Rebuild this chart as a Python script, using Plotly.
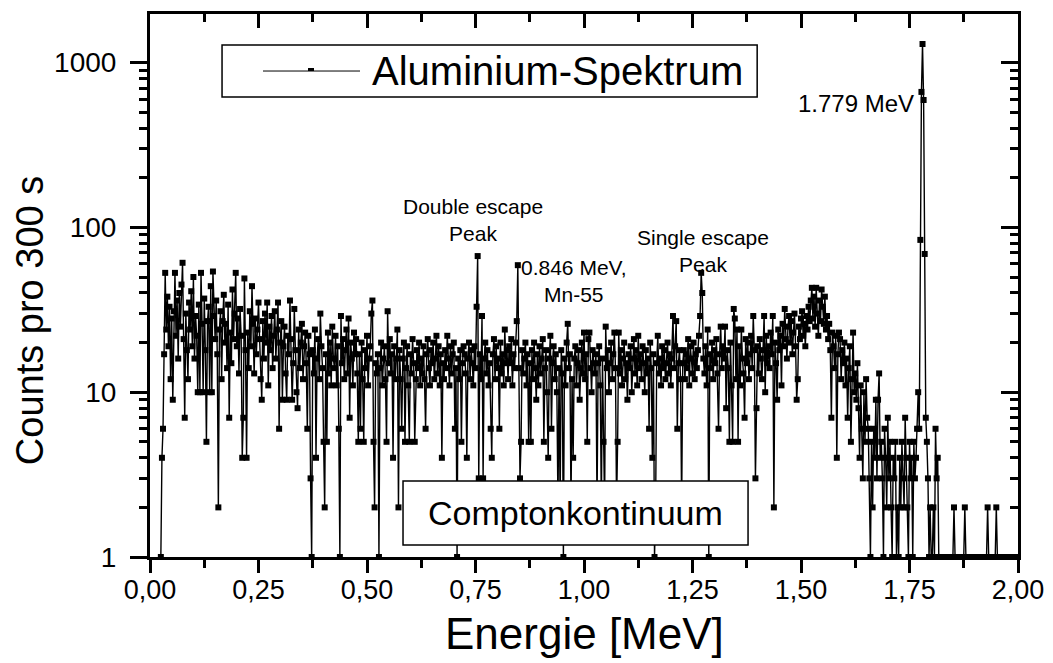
import numpy as np
import plotly.graph_objects as go

# ---------------- data ----------------
E_START = 0.025   # MeV, energy of first channel
E_STEP = 0.0025   # MeV per channel

counts_a = [  # 0.025 - 0.2725 MeV
    1, 4, 6, 17, 53, 24, 38, 19, 33, 12, 28, 9, 31, 53, 22, 36, 16, 40, 25, 45,
    61, 21, 7, 30, 18, 12, 35, 24, 41, 19, 50, 16, 29, 22, 10, 34, 10, 53, 26, 10,
    37, 18, 5, 27, 33, 10, 44, 10, 54, 29, 21, 36, 17, 2, 24, 31, 12, 27, 39, 20,
    26, 14, 34, 7, 23, 15, 42, 21, 30, 53, 19, 28, 13, 32, 22, 4, 7, 49, 18, 4,
    23, 14, 31, 19, 44, 26, 13, 28, 17, 24, 35, 21, 12, 9, 27, 16, 30, 20, 35, 11,
]
counts_b = [  # 0.275 - 0.5225 MeV
    25, 18, 29, 14, 22, 31, 16, 24, 35, 6, 20, 27, 9, 19, 25, 13, 9, 22, 17, 36,
    21, 9, 15, 32, 18, 10, 8, 24, 14, 20, 26, 12, 19, 23, 15, 6, 22, 17, 3, 1,
    18, 13, 24, 4, 16, 21, 12, 30, 19, 14, 5, 2, 17, 5, 23, 13, 20, 11, 25, 16,
    14, 22, 11, 19, 6, 1, 29, 15, 21, 12, 18, 24, 13, 28, 7, 20, 16, 11, 23, 17,
    21, 13, 5, 17, 6, 20, 12, 5, 18, 14, 22, 11, 16, 19, 30, 36, 5, 2, 15, 13,
]
counts_c = [  # 0.525 - 0.7725 MeV
    17, 1, 14, 20, 11, 16, 19, 12, 5, 31, 15, 21, 13, 17, 4, 19, 12, 16, 24, 2,
    18, 12, 6, 16, 20, 5, 14, 19, 11, 5, 17, 13, 21, 15, 5, 12, 18, 14, 20, 11,
    16, 13, 19, 12, 6, 17, 21, 14, 11, 18, 15, 20, 12, 16, 22, 13, 19, 11, 17, 4,
    15, 12, 18, 14, 22, 16, 11, 19, 13, 17, 20, 6, 14, 1, 16, 12, 18, 5, 15, 19,
    17, 13, 4, 16, 20, 12, 18, 15, 11, 19, 14, 33, 67, 3, 17, 12, 29, 3, 16, 20,
]
counts_d = [  # 0.775 - 1.0225 MeV
    13, 18, 11, 15, 6, 4, 17, 21, 12, 19, 14, 16, 6, 20, 13, 17, 11, 24, 15, 18,
    12, 19, 15, 21, 11, 17, 14, 20, 27, 59, 14, 3, 5, 18, 13, 16, 20, 11, 17, 5,
    15, 5, 18, 12, 20, 14, 9, 17, 11, 19, 13, 16, 21, 5, 14, 18, 10, 4, 16, 22,
    6, 15, 19, 12, 17, 10, 2, 14, 2, 18, 13, 1, 16, 11, 20, 26, 14, 17, 2, 12,
    4, 16, 19, 11, 15, 18, 9, 14, 20, 13, 23, 12, 17, 5, 21, 23, 14, 10, 18, 15,
]
counts_e = [  # 1.025 - 1.2725 MeV
    13, 17, 2, 15, 19, 11, 2, 16, 5, 2, 25, 14, 18, 10, 15, 20, 12, 17, 23, 14,
    2, 5, 23, 13, 18, 11, 16, 20, 12, 15, 9, 17, 14, 19, 10, 16, 21, 13, 18, 11,
    22, 14, 17, 12, 19, 15, 10, 18, 13, 16, 6, 20, 14, 4, 17, 1, 2, 15, 22, 13,
    16, 11, 19, 14, 18, 12, 15, 20, 13, 17, 11, 16, 29, 14, 19, 27, 6, 15, 18, 12,
    2, 15, 18, 12, 17, 14, 21, 11, 19, 16, 13, 20, 12, 17, 14, 18, 22, 29, 53, 40,
]
counts_f = [  # 1.275 - 1.5225 MeV
    16, 13, 19, 11, 24, 1, 17, 14, 20, 12, 18, 15, 21, 13, 6, 17, 25, 14, 19, 16,
    25, 8, 18, 14, 5, 20, 11, 5, 32, 28, 12, 24, 5, 19, 11, 24, 16, 13, 7, 21,
    15, 20, 12, 17, 22, 14, 29, 18, 3, 8, 19, 13, 21, 16, 12, 18, 29, 10, 22, 15,
    19, 14, 23, 17, 29, 2, 20, 15, 9, 24, 18, 22, 11, 26, 19, 32, 21, 16, 25, 29,
    20, 27, 17, 23, 30, 19, 9, 12, 25, 21, 28, 31, 22, 26, 19, 29, 24, 33, 27, 36,
]
counts_g = [  # 1.525 - 1.7725 MeV
    43, 28, 38, 25, 43, 30, 22, 36, 27, 42, 33, 26, 38, 24, 29, 21, 26, 18, 7, 23,
    19, 14, 22, 4, 17, 23, 21, 12, 18, 15, 20, 11, 16, 7, 14, 19, 5, 12, 23, 10,
    13, 9, 15, 8, 4, 11, 6, 3, 10, 5, 12, 7, 6, 3, 1, 5, 2, 6, 4, 9,
    3, 9, 13, 4, 5, 3, 1, 6, 4, 2, 7, 3, 5, 2, 1, 4, 3, 5, 1, 2,
    1, 4, 2, 5, 3, 2, 7, 4, 2, 1, 5, 3, 4, 1, 5, 3, 4, 6, 10, 6,
]
counts_h = [  # 1.775 - 2.000 MeV
    84, 664, 1297, 593, 69, 7, 5, 3, 1, 2, 1, 1, 2, 1, 6, 3, 4, 1, 1, 1,
    1, 1, 1, 1, 1, 1, 1, 1, 1, 1,
    1, 2, 1, 1, 1, 1, 1, 1, 1, 1,
    1, 2, 1, 1, 1, 1, 1, 1, 1, 1,
    1, 1, 1, 1, 1, 1, 1, 1, 1, 1,
    1, 1, 2, 1, 1, 1, 1, 1, 1, 1,
    2, 1, 1, 1, 1, 1, 1, 1, 1, 1,
    1, 1, 1, 1, 1, 1, 1, 1, 1, 1,
    1,
]

x_ticks = [0.0, 0.25, 0.5, 0.75, 1.0, 1.25, 1.5, 1.75, 2.0]
x_tick_labels = ["0,00", "0,25", "0,50", "0,75", "1,00", "1,25", "1,50", "1,75", "2,00"]
y_ticks = [1, 10, 100, 1000]
y_tick_labels = ["1", "10", "100", "1000"]

counts = counts_a + counts_b + counts_c + counts_d + counts_e + counts_f + counts_g + counts_h
energy = E_START + E_STEP * np.arange(len(counts))

FONT = "Liberation Sans, Arial, Helvetica, sans-serif"
BLACK = "black"

fig = go.Figure()
fig.add_trace(go.Scatter(
    x=energy, y=counts, mode="lines+markers", name="Aluminium-Spektrum",
    line=dict(color=BLACK, width=1.4),
    marker=dict(symbol="square", size=6, color=BLACK, line=dict(width=0)),
    cliponaxis=False, showlegend=False,
))
# carrier trace for the mirrored (top / right) frame axes
fig.add_trace(go.Scatter(x=[], y=[], xaxis="x2", yaxis="y2", showlegend=False, hoverinfo="skip"))

Y_TOP = 3.295
tick_common = dict(tickcolor=BLACK, tickwidth=2.5, showgrid=False, zeroline=False,
                   showline=True, linecolor=BLACK, linewidth=3, automargin=False)

fig.update_layout(
    width=1053, height=663,
    margin=dict(l=150, r=35, t=14, b=106),
    paper_bgcolor="white", plot_bgcolor="white",
    font=dict(family=FONT, color=BLACK),
    separators=", ",
    xaxis=dict(
        range=[0, 2], tickmode="array", tickvals=x_ticks, ticktext=x_tick_labels,
        ticks="outside", ticklen=13, ticklabelstandoff=-6,
        minor=dict(dtick=0.125, tick0=0, ticks="outside", ticklen=8, tickwidth=2.5,
                   tickcolor=BLACK, showgrid=False),
        tickfont=dict(size=27, family=FONT),
        **tick_common,
    ),
    xaxis2=dict(
        range=[0, 2], overlaying="x", side="top", anchor="y", tickmode="linear",
        tick0=0, dtick=0.25, ticks="inside", ticklen=14, showticklabels=False,
        minor=dict(dtick=0.125, tick0=0, ticks="inside", ticklen=8, tickwidth=2.5,
                   tickcolor=BLACK, showgrid=False),
        **tick_common,
    ),
    yaxis=dict(
        type="log", range=[0, Y_TOP], tickmode="array", tickvals=y_ticks,
        ticktext=y_tick_labels, ticks="outside", ticklen=17, ticklabelstandoff=8,
        minor=dict(dtick="D1", ticks="outside", ticklen=8, tickwidth=2.5,
                   tickcolor=BLACK, showgrid=False),
        tickfont=dict(size=28, family=FONT),
        **tick_common,
    ),
    yaxis2=dict(
        type="log", range=[0, Y_TOP], overlaying="y", side="right", anchor="x",
        dtick=1, ticks="inside", ticklen=17, showticklabels=False,
        minor=dict(dtick="D1", ticks="inside", ticklen=8, tickwidth=2.5,
                   tickcolor=BLACK, showgrid=False),
        **tick_common,
    ),
)

# ---- axis titles (placed like the original) ----
fig.add_annotation(x=0.5, y=-0.1418, xref="paper", yref="paper", text="Energie [MeV]",
                   showarrow=False, xanchor="center", yanchor="middle",
                   font=dict(size=44, family=FONT, color=BLACK))
fig.add_annotation(x=-0.139, y=0.435, xref="paper", yref="paper", text="Counts pro 300 s",
                   showarrow=False, textangle=-90, xanchor="center", yanchor="middle",
                   font=dict(size=38, family=FONT, color=BLACK))

# ---- legend box drawn like the original (long line sample) ----
LEG_Y = 10 ** 2.949
fig.add_shape(type="rect", xref="x", yref="y", x0=0.166, x1=1.399,
              y0=10 ** 2.791, y1=10 ** 3.107,
              line=dict(color=BLACK, width=1.5), fillcolor="white", layer="above")
fig.add_shape(type="line", xref="x", yref="y", x0=0.2604, x1=0.4839, y0=LEG_Y, y1=LEG_Y,
              line=dict(color=BLACK, width=1), layer="above")
fig.add_shape(type="rect", xref="x", yref="y", xsizemode="pixel", ysizemode="pixel",
              xanchor=0.371, yanchor=LEG_Y, x0=-3, x1=3, y0=-3, y1=3,
              line=dict(width=0), fillcolor=BLACK, layer="above")
fig.add_annotation(x=0.5075, y=2.949, xref="x", yref="y", text="Aluminium-Spektrum",
                   showarrow=False, xanchor="left", yanchor="middle",
                   font=dict(size=40, family=FONT, color=BLACK))

# ---- Compton continuum box ----
fig.add_shape(type="rect", xref="x", yref="y", x0=0.583, x1=1.378,
              y0=10 ** 0.0728, y1=10 ** 0.461,
              line=dict(color=BLACK, width=1.5), fillcolor="white", layer="above")
fig.add_annotation(x=0.9804, y=0.267, xref="x", yref="y", text="Comptonkontinuum",
                   showarrow=False, xanchor="center", yanchor="middle",
                   font=dict(size=34, family=FONT, color=BLACK))

# ---- peak labels ----
labels = [
    ("Double escape<br>Peak", 0.745, 2.045, "center", 21),
    ("Single escape<br>Peak", 1.274, 1.855, "center", 21),
    ("0.846 MeV,<br>Mn-55", 0.850, 1.675, "left", 21),
    ("1.779 MeV", 1.765, 2.752, "right", 24),
]
for text, lx, ly, anchor, size in labels:
    fig.add_annotation(x=lx, y=ly, xref="x", yref="y", text=text, showarrow=False,
                       xanchor=anchor, yanchor="middle", align="center",
                       font=dict(size=size, family=FONT, color=BLACK))

fig.write_html("out.html", config={"displayModeBar": False},
               post_script="document.body.style.margin='0';")
